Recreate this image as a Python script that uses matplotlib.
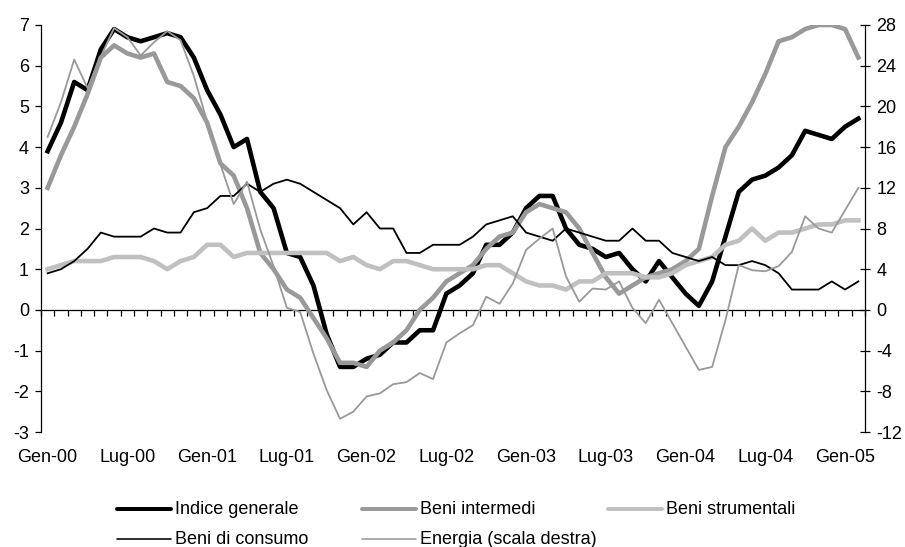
import matplotlib
matplotlib.use("Agg")
import matplotlib.pyplot as plt
from matplotlib.lines import Line2D
import numpy as np

plt.rcParams['font.family'] = ['Liberation Sans', 'DejaVu Sans']
plt.rcParams['axes.unicode_minus'] = False

# monthly data, Gen-00 .. Feb-05
indice = [3.9, 4.6, 5.6, 5.4, 6.4, 6.9, 6.7, 6.6, 6.7, 6.8,
          6.7, 6.2, 5.4, 4.8, 4.0, 4.2, 2.9, 2.5, 1.4, 1.3,
          0.6, -0.6, -1.4, -1.4, -1.2, -1.1, -0.8, -0.8, -0.5, -0.5,
          0.4, 0.6, 0.9, 1.6, 1.6, 1.9, 2.5, 2.8, 2.8, 2.0,
          1.6, 1.5, 1.3, 1.4, 1.0, 0.7, 1.2, 0.8, 0.4, 0.1,
          0.7, 1.8, 2.9, 3.2, 3.3, 3.5, 3.8, 4.4, 4.3, 4.2,
          4.5, 4.7]
intermedi = [3.0, 3.8, 4.5, 5.3, 6.2, 6.5, 6.3, 6.2, 6.3, 5.6,
             5.5, 5.2, 4.6, 3.6, 3.3, 2.5, 1.4, 1.0, 0.5, 0.3,
             -0.2, -0.7, -1.3, -1.3, -1.4, -1.0, -0.8, -0.5, 0.0, 0.3,
             0.7, 0.9, 1.1, 1.5, 1.8, 1.9, 2.4, 2.6, 2.5, 2.4,
             2.0, 1.4, 0.8, 0.4, 0.6, 0.8, 0.9, 1.0, 1.2, 1.5,
             2.8, 4.0, 4.5, 5.1, 5.8, 6.6, 6.7, 6.9, 7.0, 7.0,
             6.9, 6.2]
strumentali = [1.0, 1.1, 1.2, 1.2, 1.2, 1.3, 1.3, 1.3, 1.2, 1.0,
               1.2, 1.3, 1.6, 1.6, 1.3, 1.4, 1.4, 1.4, 1.4, 1.4,
               1.4, 1.4, 1.2, 1.3, 1.1, 1.0, 1.2, 1.2, 1.1, 1.0,
               1.0, 1.0, 1.0, 1.1, 1.1, 0.9, 0.7, 0.6, 0.6, 0.5,
               0.7, 0.7, 0.9, 0.9, 0.9, 0.8, 0.8, 0.9, 1.1, 1.2,
               1.3, 1.6, 1.7, 2.0, 1.7, 1.9, 1.9, 2.0, 2.1, 2.1,
               2.2, 2.2]
consumo = [0.9, 1.0, 1.2, 1.5, 1.9, 1.8, 1.8, 1.8, 2.0, 1.9,
           1.9, 2.4, 2.5, 2.8, 2.8, 3.1, 2.9, 3.1, 3.2, 3.1,
           2.9, 2.7, 2.5, 2.1, 2.4, 2.0, 2.0, 1.4, 1.4, 1.6,
           1.6, 1.6, 1.8, 2.1, 2.2, 2.3, 1.9, 1.8, 1.7, 2.0,
           1.9, 1.8, 1.7, 1.7, 2.0, 1.7, 1.7, 1.4, 1.3, 1.2,
           1.3, 1.1, 1.1, 1.2, 1.1, 0.9, 0.5, 0.5, 0.5, 0.7,
           0.5, 0.7]
energia = [17.0, 20.4, 24.6, 21.8, 24.9, 27.7, 26.8, 25.0, 26.3, 27.4,
           26.5, 23.0, 18.5, 14.3, 10.4, 12.6, 7.9, 4.3, 0.2, -0.2,
           -4.3, -7.9, -10.7, -10.0, -8.5, -8.2, -7.3, -7.1, -6.2, -6.8,
           -3.2, -2.3, -1.5, 1.3, 0.6, 2.6, 5.9, 7.0, 8.0, 3.3,
           0.8, 2.1, 2.0, 2.8, 0.2, -1.3, 1.0, -1.3, -3.6, -5.9,
           -5.6, -1.0, 4.4, 3.9, 3.8, 4.3, 5.7, 9.2, 8.0, 7.6,
           9.8, 12.0]

tick_labels = ['Gen-00', 'Lug-00', 'Gen-01', 'Lug-01', 'Gen-02', 'Lug-02',
               'Gen-03', 'Lug-03', 'Gen-04', 'Lug-04', 'Gen-05']

x = np.arange(len(indice))

fig = plt.figure(figsize=(9.05, 5.47), dpi=100)
ax = fig.add_axes([0.0453, 0.2102, 0.9105, 0.7441])
ax2 = ax.twinx()

thick = 3.3
thin = 1.3
ax.plot(x, indice, color='black', lw=thick, solid_joinstyle='round')
ax.plot(x, intermedi, color='#999999', lw=thick, solid_joinstyle='round')
ax.plot(x, strumentali, color='#c0c0c0', lw=thick, solid_joinstyle='round')
ax.plot(x, consumo, color='black', lw=thin)
ax2.plot(x, energia, color='#999999', lw=thin)

ax.set_xlim(-0.5, len(x) - 0.5)
ax.set_ylim(-3, 7)
ax2.set_ylim(-12, 28)
ax.set_yticks(range(-3, 8))
ax2.set_yticks(range(-12, 29, 4))

for a in (ax, ax2):
    a.spines['top'].set_visible(False)
    a.spines['bottom'].set_visible(False)
    a.patch.set_visible(False)
ax2.spines['left'].set_visible(False)
ax.spines['right'].set_visible(False)
ax.spines['left'].set_linewidth(0.9)
ax2.spines['right'].set_linewidth(0.9)

ax.tick_params(axis='y', direction='out', length=4.3, width=0.9, pad=4.3, labelsize=13)
ax2.tick_params(axis='y', direction='inout', length=7.2, width=0.9, pad=4.5, labelsize=13)

# category labels under the plot
ax.set_xticks(x[::6])
ax.set_xticklabels(tick_labels)
ax.tick_params(axis='x', length=0, pad=12.5, labelsize=13)

# zero line with monthly tick marks
zero = ax.secondary_xaxis(0.3)
zero.set_xticks(np.arange(-0.5, len(x), 1.0))
zero.tick_params(axis='x', direction='out', length=4.3, width=0.9, labelbottom=False)
zero.spines['bottom'].set_linewidth(0.9)

# legend drawn by hand, two rows
W, H = 905.0, 547.0
entries = [
    ('Indice generale', 'black', 4.0, 117, 509),
    ('Beni intermedi', '#999999', 4.0, 362, 509),
    ('Beni strumentali', '#c0c0c0', 4.0, 608, 509),
    ('Beni di consumo', 'black', 1.6, 117, 539),
    ('Energia (scala destra)', '#999999', 1.6, 362, 539),
]
for label, color, lw, px, py in entries:
    fy = 1 - py / H
    fig.add_artist(Line2D([px / W, (px + 54) / W], [fy, fy], color=color,
                          lw=lw * 0.72, solid_capstyle='round'))
    fig.text((px + 58) / W, fy, label, fontsize=13, va='center', ha='left')

fig.savefig('out.png', dpi=100)
